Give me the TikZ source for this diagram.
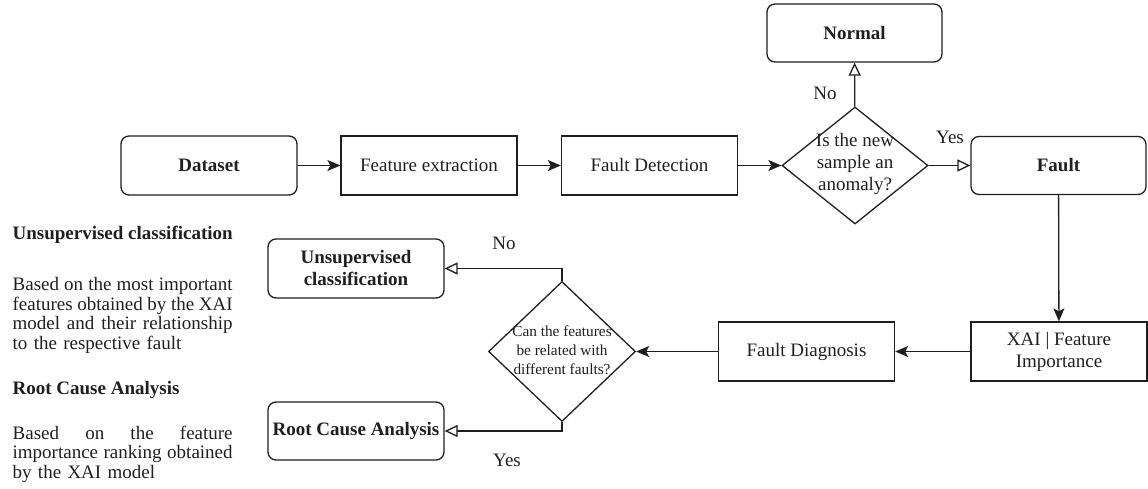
\documentclass[tikz,border=0pt]{standalone}
\usepackage{fontspec}
\setmainfont{Liberation Serif}
\usepackage{xcolor}
\definecolor{ink}{HTML}{1F1F1F}
\usetikzlibrary{shapes.geometric,arrows.meta}

\begin{document}
\begin{tikzpicture}[x=1pt, y=-1pt, line width=1.3pt, draw=ink, text=ink,
  font=\fontsize{19}{22}\selectfont,
  stepbox/.style={draw=ink, minimum width=176pt, minimum height=59pt,
                  inner sep=2pt, align=center},
  endbox/.style={stepbox, rounded corners=8pt,
                 font=\fontsize{19}{22}\selectfont\bfseries},
  query/.style={draw=ink, diamond, minimum width=146pt,
                minimum height=117pt, inner sep=0pt},
  qtext/.style={align=center, inner sep=0pt},
  flow/.style={draw=ink, -{Stealth[length=13pt,width=11pt,inset=3pt]}},
  choice/.style={draw=ink, -{Triangle[open,length=13pt,width=12pt]}},
  lbl/.style={inner sep=0pt},
  head/.style={anchor=west, inner sep=0pt,
               font=\fontsize{19}{19.5}\selectfont\bfseries},
  note/.style={anchor=north west, inner sep=0pt, text width=220pt,
               align=left, font=\fontsize{19}{19.5}\selectfont}]

\useasboundingbox (0,0) rectangle (1148,489);

% detection row
\node[endbox] (data) at (209,165.5) {Dataset};
\node[stepbox] (feat) at (429,165.5) {Feature extraction};
\node[stepbox] (detect) at (649.5,165.5) {Fault Detection};
\node[query] (anom) at (855,165.5) {};
\node[qtext] (anomq) at (855,164) {Is the new\\sample an\\anomaly?};
\node[endbox, minimum width=175pt, minimum height=58pt] (normal) at (854.5,33) {Normal};
\node[endbox, minimum width=175pt, minimum height=58pt] (fault) at (1058.5,165.5) {Fault};

\draw[flow] (data) -- (feat);
\draw[flow] (feat) -- (detect);
\draw[flow] (detect) -- (anom);
\draw[choice] (anom) -- (normal);
\draw[choice] (anom) -- (fault);
\node[lbl] (no1) at (825,93) {No};
\node[lbl] (yes1) at (950,137) {Yes};

% diagnosis row
\node[stepbox] (xai) at (1059,351.5) {XAI | Feature\\Importance};
\node[stepbox] (diag) at (806.5,351.5) {Fault Diagnosis};
\node[query, minimum width=147pt, minimum height=140pt] (relate) at (562,351.5) {};
\node[qtext, font=\fontsize{15.3}{19}\selectfont] (relateq) at (562,350)
  {Can the features\\be related with\\different faults?};
\node[endbox] (unsup) at (356,268.5) {Unsupervised\\classification};
\node[endbox, minimum height=58pt] (root) at (356,431) {Root Cause Analysis};

\draw[flow] (fault) -- (xai);
\draw[flow] (xai) -- (diag);
\draw[flow] (diag) -- (relate);
\draw[choice] (relate.north) |- (unsup);
\draw[choice] (relate.south) |- (root);
\node[lbl] (no2) at (504,243) {No};
\node[lbl] (yes2) at (507,460) {Yes};

% side notes
\node[head] (h1) at (12,235) {Unsupervised classification};
\node[note] (p1) at (12,277)
  {\makebox[220pt][s]{Based\hfill on\hfill the\hfill most\hfill important}\\
   \makebox[220pt][s]{features\hfill obtained\hfill by\hfill the\hfill XAI}\\
   \makebox[220pt][s]{model\hfill and\hfill their\hfill relationship}\\
   to the respective fault};
\node[head] (h2) at (12,390) {Root Cause Analysis};
\node[note] (p2) at (12,425)
  {\makebox[220pt][s]{Based\hfill on\hfill the\hfill feature}\\
   \makebox[220pt][s]{importance\hfill ranking\hfill obtained}\\
   by the XAI model};

\end{tikzpicture}
\end{document}
